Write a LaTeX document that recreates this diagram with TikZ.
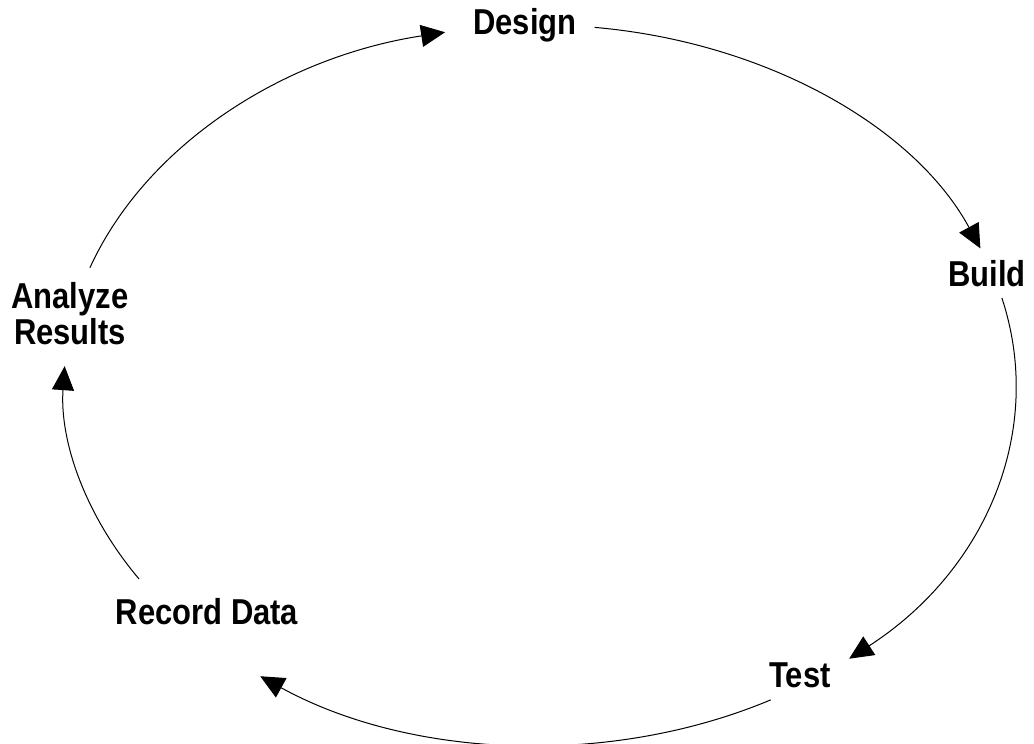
\documentclass[tikz,border=0pt]{standalone}
\usepackage{fontspec}
\setmainfont{Liberation Sans}[FakeStretch=0.86]
\usetikzlibrary{arrows.meta}
\tikzset{
  step label/.style={font=\fontsize{18}{19}\selectfont\bfseries, align=center},
  cycle arc/.style={line width=0.5pt, -{Triangle[length=12pt,width=11pt]}}
}

\begin{document}
\begin{tikzpicture}[x=0.5pt,y=0.5pt]
	\useasboundingbox (0,0) rectangle (1034,744);
	\coordinate (c) at (540,359);
	\node[step label] (design) at (525,719) {Design};
	\node[step label] (build) at (987,470) {Build};
	\node[step label] (test) at (800,69) {Test};
	\node[step label] (record) at (207,132) {Record Data};
	\node[step label] (analyze) at (70,430) {Analyze\\[-1pt]Results};
	\draw [cycle arc] (c) ++(161:238pt and 180pt) arc[start angle=161, end angle=101.5, x radius=238pt, y radius=180pt];
	\draw [cycle arc] (c) ++(83.4:238pt and 180pt) arc[start angle=83.4, end angle=22.3, x radius=238pt, y radius=180pt];
	\draw [cycle arc] (c) ++(14:238pt and 180pt) arc[start angle=14, end angle=-49.5, x radius=238pt, y radius=180pt];
	\draw [cycle arc] (c) ++(-61:238pt and 180pt) arc[start angle=-61, end angle=-126, x radius=238pt, y radius=180pt];
	\draw [cycle arc] (c) ++(212.6:238pt and 180pt) arc[start angle=212.6, end angle=177, x radius=238pt, y radius=180pt];
\end{tikzpicture}
\end{document}
